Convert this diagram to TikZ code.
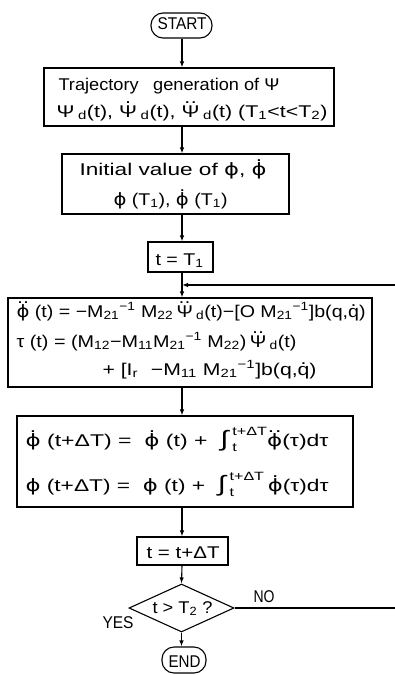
\documentclass[tikz,border=0pt]{standalone}
\usepackage{fontspec}
\setmainfont{Liberation Sans}
\newfontfamily\dv{DejaVu Sans}
\usepackage{graphicx}
\usetikzlibrary{shapes.geometric,arrows.meta}
\newcommand{\Dt}[2][0.8em]{{\ooalign{#2\cr\hidewidth\raisebox{#1}{.}\hidewidth\cr}}}
\newcommand{\DDt}[2][0.8em]{{\ooalign{#2\cr\hidewidth\raisebox{#1}{.\kern0.03em.}\hidewidth\cr}}}
\newcommand{\Ph}{{\dv ϕ}}
\newcommand{\Lims}[2]{\rlap{\raisebox{-0.3em}{\fontsize{12}{12}\selectfont #1}}\raisebox{0.62em}{\fontsize{12}{12}\selectfont #2}}
\newcommand{\Fit}[2]{\resizebox{#1pt}{\height}{#2}}
\newcommand{\Intg}{{\fontsize{22}{22}\selectfont ∫}}
\begin{document}
\begin{tikzpicture}[x=1pt,y=-1pt,font=\fontsize{17}{20}\selectfont,line width=1.1pt,
  box/.style={draw,rectangle,inner sep=0pt},
  term/.style={draw,rectangle,rounded corners=12pt,inner sep=0pt},
  txt/.style={anchor=base west,inner sep=0pt},
  arr/.style={-{Latex[length=6pt,width=4.5pt]}}]
\useasboundingbox (0,0) rectangle (395,675);
% shapes
\node[term,minimum width=61pt,minimum height=25pt] (start) at (181.5,25.5) {};
\node[box,minimum width=290pt,minimum height=58pt] (b1) at (189,97) {};
\node[box,minimum width=227pt,minimum height=60pt] (b2) at (175.5,184) {};
\node[box,minimum width=65pt,minimum height=30pt] (b3) at (180.5,257) {};
\node[box,minimum width=364pt,minimum height=89pt] (b4) at (190,342.5) {};
\node[box,minimum width=336pt,minimum height=91pt] (b5) at (185,461.5) {};
\node[box,minimum width=91pt,minimum height=28pt] (b6) at (182.5,551) {};
\node[draw,diamond,inner sep=0pt,minimum width=105pt,minimum height=48pt] (dia) at (181.5,608) {};
\node[term,minimum width=44pt,minimum height=26pt,rounded corners=12pt] (end) at (184,660) {};
\coordinate (axis) at (182,0);
\coordinate (merge) at (182,285);
\coordinate (fb) at (402,0);
% texts
\node[txt] (startT) at (157,29.5) {\Fit{49}{START}};
\node[txt] (b1a) at (58,90) {\Fit{221}{Trajectory\hspace{0.8em}generation of Ψ}};
\node[txt] (b1b) at (56,117) {\Fit{271}{Ψ\,\textsubscript{d}(t), \Dt[0.82em]{Ψ}\,\textsubscript{d}(t), \DDt[0.82em]{Ψ}\,\textsubscript{d}(t) (T\textsubscript{1}<t<T\textsubscript{2})}};
\node[txt] (b2a) at (79,175) {\Fit{187}{Initial value of \Ph, \Dt{\Ph}}};
\node[txt] (b2b) at (113,205) {\Fit{114}{\Ph\ (T\textsubscript{1}), \Dt{\Ph} (T\textsubscript{1})}};
\node[txt] (b3t) at (155,265) {\Fit{48}{t = T\textsubscript{1}}};
\node[txt] (b4a) at (16,317) {\Fit{349}{\DDt{\Ph} (t) = −M\textsubscript{21}\textsuperscript{−1} M\textsubscript{22}\,\DDt[0.82em]{Ψ}\,\textsubscript{d}(t)−[O M\textsubscript{21}\textsuperscript{−1}]b(q,\Dt[0.62em]{q})}};
\node[txt] (b4b) at (16,347) {\Fit{280}{τ (t) = (M\textsubscript{12}−M\textsubscript{11}M\textsubscript{21}\textsuperscript{−1} M\textsubscript{22})\,\DDt[0.82em]{Ψ}\,\textsubscript{d}(t)}};
\node[txt] (b4c) at (102,375) {\Fit{214}{+ [I\textsubscript{r}\hspace{0.6em}−M\textsubscript{11} M\textsubscript{21}\textsuperscript{−1}]b(q,\Dt[0.62em]{q})}};
\node[txt] (b5a) at (25,446) {\Fit{303}{\Dt{\Ph} (t+ΔT) = \ \Dt{\Ph} (t) + \ \Intg\,\Lims{t}{t+ΔT}\DDt{\Ph}(τ)dτ}};
\node[txt] (b5b) at (25,491) {\Fit{303}{\Ph\ (t+ΔT) = \ \Ph\ (t) + \ \Intg\,\Lims{t}{t+ΔT}\,\Dt{\Ph}(τ)dτ}};
\node[txt] (b6t) at (146,558) {\Fit{73}{t = t+ΔT}};
\node[txt] (diat) at (152,613) {\Fit{60}{t > T\textsubscript{2} ?}};
\node[txt] (no) at (253,602) {\Fit{21}{NO}};
\node[txt] (yes) at (102,628) {\Fit{31}{YES}};
\node[txt] (endT) at (168,667) {\Fit{32}{END}};
% connectors
\draw[arr] (start.south -| axis) -- (b1.north -| axis);
\draw[arr] (b1.south -| axis) -- (b2.north -| axis);
\draw[arr] (b2.south -| axis) -- (b3.north -| axis);
\draw[arr] (b3.south -| axis) -- (b4.north -| axis);
\draw[arr] (b4.south -| axis) -- (b5.north -| axis);
\draw[arr] (b5.south -| axis) -- (b6.north -| axis);
\draw[arr] (b6.south -| axis) -- (dia.north);
\draw[arr] (dia.south) -- (dia.south |- end.north);
\draw[arr] (dia.east) -- (dia.east -| fb) -- (merge -| fb) -- (merge);
\end{tikzpicture}
\end{document}
